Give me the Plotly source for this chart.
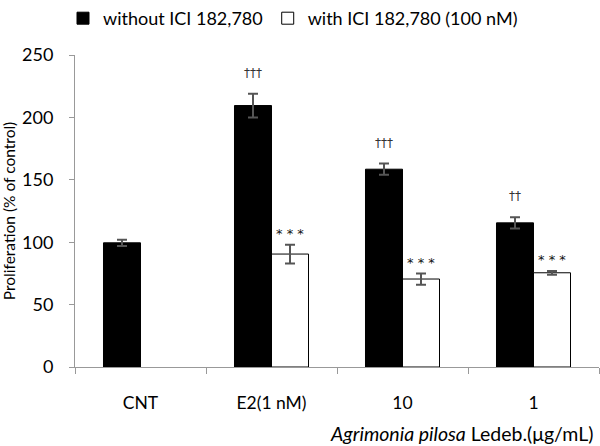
import plotly.graph_objects as go

categories = ["CNT", "E2(1 nM)", "10", "1"]
without_vals = [99.5, 209.5, 158.5, 115.5]
without_err = [2.5, 9.5, 4.5, 4.5]
with_vals = [None, 90.5, 70.5, 75.5]
with_err = [None, 7.5, 4.5, 1.5]
without_marks = ["", "†††", "†††", "††"]
with_marks = ["", "* * *", "* * *", "* * *"]

FONT = "Lato"

fig = go.Figure()
fig.add_trace(go.Bar(
    x=categories, y=without_vals, name="without ICI 182,780",
    marker=dict(color="black", line=dict(color="black", width=1)),
    error_y=dict(type="data", array=without_err, visible=True, color="#555", thickness=2, width=5),
))
fig.add_trace(go.Bar(
    x=categories, y=with_vals, name="with ICI 182,780 (100 nM)",
    marker=dict(color="white", line=dict(color="black", width=1)),
    error_y=dict(type="data", array=with_err, visible=True, color="#555", thickness=2, width=5),
))

for i, c in enumerate(categories):
    if without_marks[i]:
        fig.add_annotation(x=i, y=without_vals[i] + without_err[i], xref="x", yref="y",
                           text=without_marks[i], showarrow=False, xshift=-18.5, yshift=21,
                           font=dict(family="DejaVu Sans", size=12, color="#333"))
    if with_marks[i]:
        fig.add_annotation(x=i, y=with_vals[i] + with_err[i], xref="x", yref="y",
                           text=with_marks[i], showarrow=False, xshift=18.5, yshift=11,
                           font=dict(family="DejaVu Sans", size=13, color="#111"))

fig.add_annotation(x=1, y=0, xref="paper", yref="paper", xanchor="right", yanchor="middle",
                   xshift=-4, yshift=-66, showarrow=False,
                   text="<i>Agrimonia pilosa</i> Ledeb.(μg/mL)",
                   font=dict(family=FONT, size=19.5, color="black"))

fig.update_layout(
    width=600, height=446,
    margin=dict(l=75, r=1, t=55, b=79, autoexpand=False),
    paper_bgcolor="white", plot_bgcolor="white",
    barmode="group", bargap=0.435, bargroupgap=0,
    font=dict(family=FONT, size=15, color="black"),
    legend=dict(orientation="h", x=0.105, y=1.0, xref="container", yref="container",
                xanchor="left", yanchor="top", font=dict(family=FONT, size=18),
                itemwidth=30, tracegroupgap=0),
    showlegend=True,
)
fig.update_xaxes(
    type="category", range=[-0.5, 3.5], showline=True, linecolor="#999", linewidth=1,
    ticks="outside", tickson="boundaries", ticklen=6, tickcolor="#999",
    tickfont=dict(family=FONT, size=17.5), showgrid=False, zeroline=False,
    ticklabelstandoff=20, automargin=False,
)
fig.update_yaxes(
    range=[0, 250], tickvals=[0, 50, 100, 150, 200, 250], showline=True, linecolor="#999",
    linewidth=1, ticks="outside", ticklen=5, tickcolor="#999", showgrid=False, zeroline=False,
    tickfont=dict(family=FONT, size=18), ticklabelstandoff=12, automargin=False,
    title=dict(text="Proliferation (% of control)", font=dict(family=FONT, size=15.5), standoff=4),
)

fig.write_html("out.html", config={"displayModeBar": False},
               post_script="document.body.style.margin='0';document.body.style.overflow='hidden';")
